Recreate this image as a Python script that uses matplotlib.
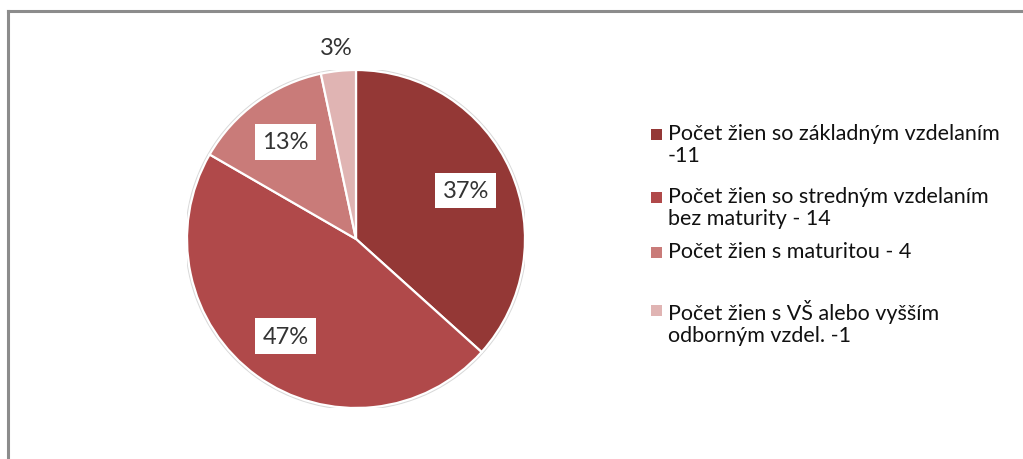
import matplotlib.pyplot as plt
import matplotlib.patches as mpatches
import numpy as np

plt.rcParams['font.family'] = ['Lato', 'DejaVu Sans']

labels = ['Počet žien so základným vzdelaním\n-11',
          'Počet žien so stredným vzdelaním\nbez maturity - 14',
          'Počet žien s maturitou - 4',
          'Počet žien s VŠ alebo vyšším\nodborným vzdel. -1']
counts = [11, 14, 4, 1]
colors = ['#943836', '#b0494a', '#c97b79', '#e0b4b3']

W, H = 1023, 460
fig = plt.figure(figsize=(W / 100, H / 100), dpi=100)

# outer frame (only top and left edges are visible)
fig.add_artist(plt.Line2D([8 / W, 8 / W], [0, 1 - 12 / H], color='#8c8c8c', lw=2.2))
fig.add_artist(plt.Line2D([8 / W, 1], [1 - 12 / H, 1 - 12 / H], color='#8c8c8c', lw=2.2))

cx, cy, r = 356, 240, 169
ax = fig.add_axes([(cx - r) / W, 1 - (cy + r) / H, 2 * r / W, 2 * r / H])

ax.add_patch(mpatches.Circle((0, 0), 1.0, facecolor='none', edgecolor='#d9d9d9', lw=3, zorder=0))
wedges, _ = ax.pie(counts, colors=colors, startangle=90, counterclock=False, radius=1,
                   wedgeprops=dict(edgecolor='white', linewidth=1.6))
ax.set_xlim(-1, 1)
ax.set_ylim(-1, 1)
ax.axis('off')

total = sum(counts)
for i, w in enumerate(wedges):
    ang = np.deg2rad((w.theta1 + w.theta2) / 2)
    pct = '%d%%' % round(100 * counts[i] / total)
    if counts[i] / total < 0.05:
        ax.text(1.14 * np.cos(ang), 1.14 * np.sin(ang), pct, ha='center', va='center',
                fontsize=17, color='#333333')
    else:
        ax.text(0.71 * np.cos(ang), 0.71 * np.sin(ang), pct, ha='center', va='center',
                fontsize=17, color='#333333',
                bbox=dict(boxstyle='square,pad=0.3', facecolor='white', edgecolor='none'))

# legend entries
ys = [136, 199, 254, 312]
for lab, col, y in zip(labels, colors, ys):
    fig.add_artist(mpatches.Rectangle((651 / W, 1 - (y + 5) / H), 11 / W, 11 / H,
                                      facecolor=col, edgecolor='none',
                                      transform=fig.transFigure))
    fig.text(668 / W, 1 - (y - 12) / H, lab, ha='left', va='top', fontsize=15.5,
             color='#111111', linespacing=1.15)

fig.savefig('out.png', dpi=100)
